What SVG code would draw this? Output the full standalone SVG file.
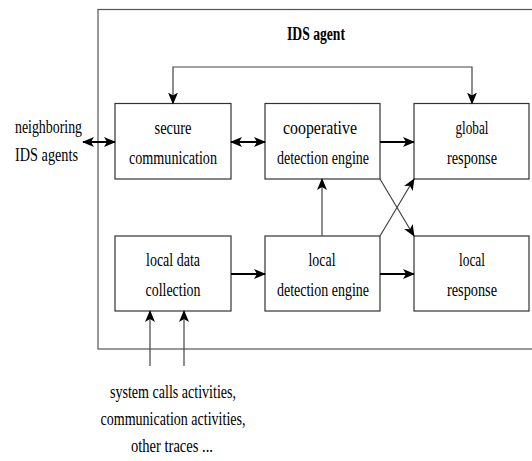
<svg xmlns="http://www.w3.org/2000/svg" width="532" height="461" viewBox="0 0 532 461">
<style>
text{font-family:"Liberation Serif","Times New Roman",Times,"DejaVu Serif",serif;font-size:18px;fill:#000;text-anchor:middle}
.box{fill:#fff;stroke:#333;stroke-width:1.2}
.thin{fill:none;stroke:#444;stroke-width:1.2}
.thick{fill:none;stroke:#000;stroke-width:2}
</style>
<defs>
<marker id="ah" viewBox="0 0 12 10" refX="11" refY="5" markerWidth="12" markerHeight="10" markerUnits="userSpaceOnUse" orient="auto-start-reverse">
<path d="M0,0 L12,5 L0,10 L3,5 z" fill="#000"/>
</marker>
</defs>
<rect width="532" height="461" fill="#fff"/>
<g id="ids-agent">
<rect x="98" y="9.5" width="500" height="339.5" fill="none" stroke="#555" stroke-width="1.2"/>
<text x="316" y="40" font-weight="bold" textLength="58" lengthAdjust="spacingAndGlyphs">IDS agent</text>
</g>
<g id="neighbors">
<text x="48.5" y="133" textLength="67" lengthAdjust="spacingAndGlyphs">neighboring</text>
<text x="46.5" y="161" textLength="63" lengthAdjust="spacingAndGlyphs">IDS agents</text>
</g>
<g id="secure-communication">
<rect class="box" x="115" y="103.5" width="116" height="75.5"/>
<text x="173" y="134" textLength="37" lengthAdjust="spacingAndGlyphs">secure</text>
<text x="173" y="164" textLength="88" lengthAdjust="spacingAndGlyphs">communication</text>
</g>
<g id="cooperative-detection-engine">
<rect class="box" x="265" y="103.5" width="115" height="75.5"/>
<text x="320" y="134" textLength="74" lengthAdjust="spacingAndGlyphs">cooperative</text>
<text x="323" y="164" textLength="92" lengthAdjust="spacingAndGlyphs">detection engine</text>
</g>
<g id="global-response">
<rect class="box" x="414" y="103.5" width="115" height="75.5"/>
<text x="472" y="134" textLength="33" lengthAdjust="spacingAndGlyphs">global</text>
<text x="472" y="164" textLength="50" lengthAdjust="spacingAndGlyphs">response</text>
</g>
<g id="local-data-collection">
<rect class="box" x="115" y="236" width="116" height="75"/>
<text x="173" y="266" textLength="54" lengthAdjust="spacingAndGlyphs">local data</text>
<text x="173" y="296" textLength="55" lengthAdjust="spacingAndGlyphs">collection</text>
</g>
<g id="local-detection-engine">
<rect class="box" x="265" y="236" width="115" height="75"/>
<text x="322" y="266" textLength="27" lengthAdjust="spacingAndGlyphs">local</text>
<text x="323" y="296" textLength="92" lengthAdjust="spacingAndGlyphs">detection engine</text>
</g>
<g id="local-response">
<rect class="box" x="414" y="236" width="115" height="75"/>
<text x="472" y="266" textLength="26" lengthAdjust="spacingAndGlyphs">local</text>
<text x="472" y="296" textLength="50" lengthAdjust="spacingAndGlyphs">response</text>
</g>
<g id="inputs">
<text x="173" y="398" textLength="126" lengthAdjust="spacingAndGlyphs">system calls activities,</text>
<text x="173" y="425" textLength="145" lengthAdjust="spacingAndGlyphs">communication activities,</text>
<text x="172" y="452" textLength="82" lengthAdjust="spacingAndGlyphs">other traces ...</text>
</g>
<g id="connectors">
<path class="thin" d="M173,103.5 V67 H472 V103.5" marker-start="url(#ah)" marker-end="url(#ah)"/>
<line class="thick" x1="83" y1="142" x2="115" y2="142" marker-start="url(#ah)" marker-end="url(#ah)"/>
<line class="thick" x1="231" y1="142" x2="265" y2="142" marker-start="url(#ah)" marker-end="url(#ah)"/>
<line class="thick" x1="380" y1="142" x2="414" y2="142" marker-end="url(#ah)"/>
<line class="thin" x1="322" y1="236" x2="322" y2="179" marker-end="url(#ah)"/>
<line class="thin" x1="380" y1="179" x2="414" y2="236" marker-end="url(#ah)"/>
<line class="thin" x1="380" y1="236" x2="414" y2="179" marker-end="url(#ah)"/>
<line class="thick" x1="231" y1="274" x2="265" y2="274" marker-end="url(#ah)"/>
<line class="thick" x1="380" y1="274" x2="414" y2="274" marker-end="url(#ah)"/>
<line class="thin" x1="150" y1="366" x2="150" y2="311" marker-end="url(#ah)"/>
<line class="thin" x1="184" y1="366" x2="184" y2="311" marker-end="url(#ah)"/>
</g>
</svg>
